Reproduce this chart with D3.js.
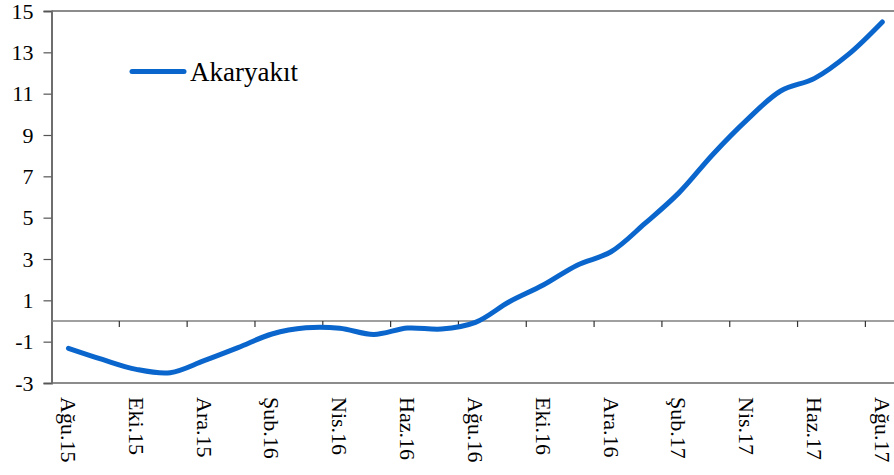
<!DOCTYPE html>
<html>
<head>
<meta charset="utf-8">
<script src="https://cdn.jsdelivr.net/npm/d3@7"></script>
<style>
  html, body { margin: 0; padding: 0; background: #fff; }
  svg { display: block; }
  text { font-family: "Liberation Serif", "Times New Roman", serif; fill: #000; }
</style>
</head>
<body>
<svg id="chart" width="894" height="475"></svg>
<script>
const months = ["Ağu.15","Eyl.15","Eki.15","Kas.15","Ara.15","Oca.16","Şub.16","Mar.16","Nis.16","May.16","Haz.16","Tem.16","Ağu.16","Eyl.16","Eki.16","Kas.16","Ara.16","Oca.17","Şub.17","Mar.17","Nis.17","May.17","Haz.17","Tem.17","Ağu.17"];
const akaryakit = [-1.32,-1.86,-2.34,-2.5,-1.92,-1.29,-0.63,-0.33,-0.35,-0.65,-0.34,-0.39,-0.07,0.93,1.74,2.7,3.35,4.72,6.2,8.06,9.72,11.13,11.74,12.9,14.47];
const yTicks = [15,13,11,9,7,5,3,1,-1,-3];
const yTickLabels = ["15","13","11","9","7","5","3","1","-1","-3"];
const seriesName = "Akaryakıt";

const svg = d3.select("#chart");
const pLeft = 51.5, pRight = 899.3, pTop = 11, pBottom = 383;

const x = d3.scaleBand().domain(months).range([pLeft, pRight]).padding(0);
const y = d3.scaleLinear().domain([-3, 15]).range([pBottom, pTop]);

// plot frame
svg.append("line").attr("x1", pLeft).attr("x2", 894).attr("y1", pTop).attr("y2", pTop)
  .attr("stroke", "#8c8c8c").attr("stroke-width", 2);
svg.append("line").attr("x1", pLeft).attr("x2", 894).attr("y1", pBottom).attr("y2", pBottom)
  .attr("stroke", "#8c8c8c").attr("stroke-width", 2);

// y axis
const yAxis = d3.axisLeft(y).tickValues(yTicks).tickSize(8).tickPadding(10)
  .tickFormat((d, i) => yTickLabels[i]);
const gy = svg.append("g").attr("transform", `translate(${pLeft},0)`).call(yAxis);
gy.select(".domain").attr("stroke", "#6e6e6e").attr("stroke-width", 2);
gy.selectAll(".tick line").attr("stroke", "#555").attr("stroke-width", 1.2);
gy.selectAll(".tick text").style("font-family", "Liberation Serif").style("font-size", "22px").attr("fill", "#000");

// zero line with ticks
const y0 = y(0);
svg.append("line").attr("x1", pLeft).attr("x2", 894).attr("y1", y0).attr("y2", y0)
  .attr("stroke", "#808080").attr("stroke-width", 1.6);
const tickIdx = months.map((m, i) => i).filter(i => i % 2 === 0 && i > 0);
svg.append("g").selectAll("line").data(tickIdx).join("line")
  .attr("x1", i => x(months[i])).attr("x2", i => x(months[i]))
  .attr("y1", y0).attr("y2", y0 + 6)
  .attr("stroke", "#333").attr("stroke-width", 1.2);

// x labels
const labIdx = months.map((m, i) => i).filter(i => i % 2 === 0);
svg.append("g").selectAll("text").data(labIdx).join("text")
  .attr("transform", i => `translate(${x(months[i]) + x.bandwidth() / 2},397) rotate(90)`)
  .attr("text-anchor", "start")
  .attr("dominant-baseline", "central")
  .style("font-size", "22px")
  .text(i => months[i]);

// series line
const line = d3.line()
  .x((d, i) => x(months[i]) + x.bandwidth() / 2)
  .y(d => y(d))
  .curve(d3.curveCatmullRom.alpha(0.5));
svg.append("path").datum(akaryakit)
  .attr("d", line)
  .attr("fill", "none")
  .attr("stroke", "#0a66cc")
  .attr("stroke-width", 5)
  .attr("stroke-linecap", "round")
  .attr("stroke-linejoin", "round");

// legend
svg.append("line").attr("x1", 132).attr("x2", 184).attr("y1", 71.5).attr("y2", 71.5)
  .attr("stroke", "#0a66cc").attr("stroke-width", 5).attr("stroke-linecap", "round");
svg.append("text").attr("x", 190).attr("y", 81).style("font-size", "27px").text(seriesName);
</script>
</body>
</html>
